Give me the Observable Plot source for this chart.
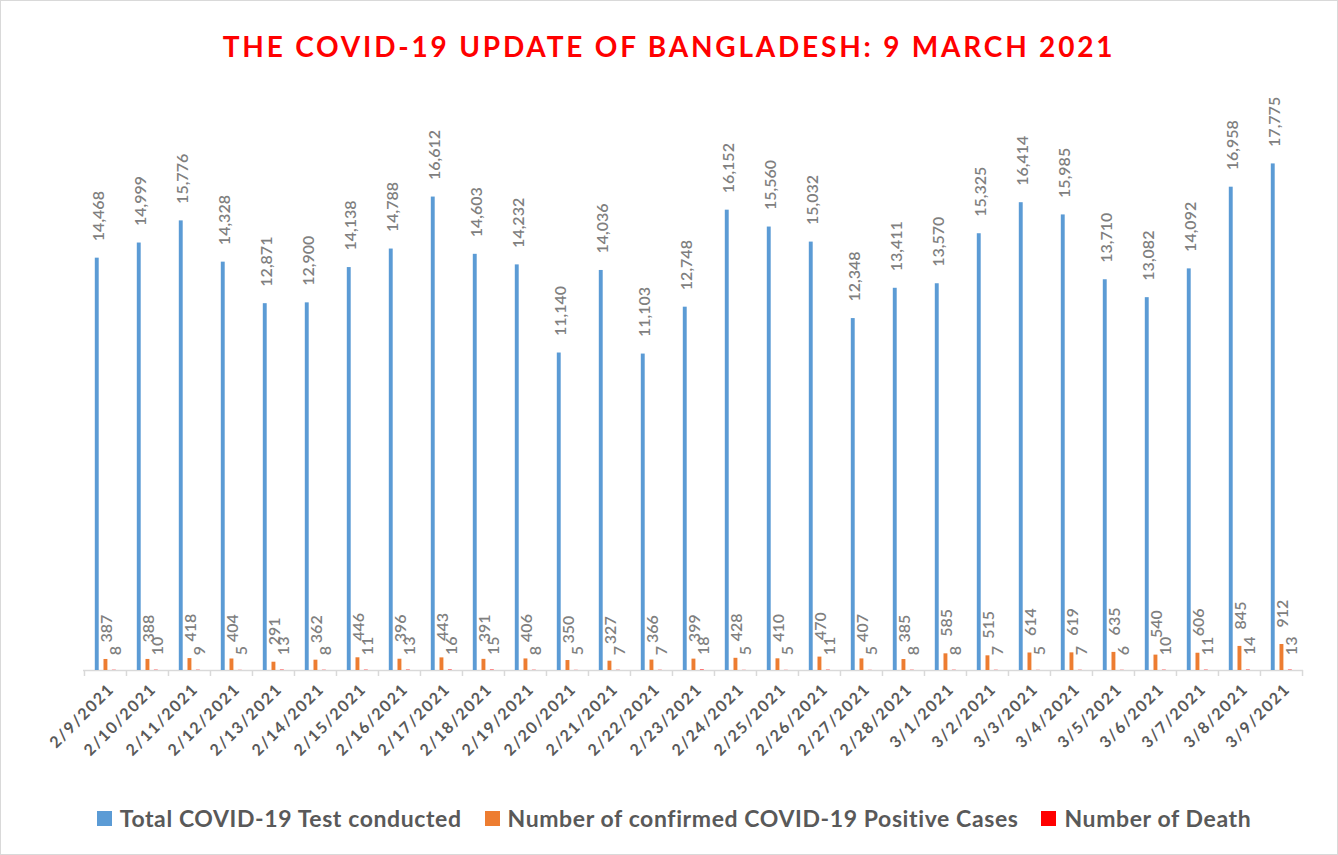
<!DOCTYPE html>
<html>
<head>
<meta charset="utf-8">
<script src="https://cdn.jsdelivr.net/npm/d3@7"></script>
<script src="https://cdn.jsdelivr.net/npm/@observablehq/plot@0.6"></script>
<style>
  html, body { margin: 0; padding: 0; background: #fff; }
  #chart { position: relative; width: 1338px; height: 855px; outline: 1px solid #d9d9d9; outline-offset: -1px; font-family: Lato, "Open Sans", sans-serif; }
  #title { position: absolute; top: 30px; left: 0; width: 100%; text-align: center; color: #ff0000; font-weight: 700; font-size: 28px; line-height: 32px; letter-spacing: 2.8px; }
  #plot { position: absolute; top: 80px; left: 0; }
  #legend { position: absolute; top: 804px; left: 0; width: 1338px; box-sizing: border-box; padding-left: 10px; display: flex; justify-content: center; align-items: center; gap: 23px; }
  .item { display: flex; align-items: center; gap: 8px; color: #595959; font-weight: 700; font-size: 23px; line-height: 28px; letter-spacing: 0.6px; }
  .sw { width: 15px; height: 15px; }
  g[aria-label="x-axis tick label"] text { letter-spacing: 1.6px; }
</style>
</head>
<body>
<div id="chart">
  <div id="title"></div>
  <div id="plot"></div>
  <div id="legend"></div>
</div>
<script>
const titleText = "THE COVID-19 UPDATE OF BANGLADESH: 9 MARCH 2021";

const dates = ["2/9/2021","2/10/2021","2/11/2021","2/12/2021","2/13/2021","2/14/2021","2/15/2021","2/16/2021","2/17/2021","2/18/2021","2/19/2021","2/20/2021","2/21/2021","2/22/2021","2/23/2021","2/24/2021","2/25/2021","2/26/2021","2/27/2021","2/28/2021","3/1/2021","3/2/2021","3/3/2021","3/4/2021","3/5/2021","3/6/2021","3/7/2021","3/8/2021","3/9/2021"];

const tests = [14468,14999,15776,14328,12871,12900,14138,14788,16612,14603,14232,11140,14036,11103,12748,16152,15560,15032,12348,13411,13570,15325,16414,15985,13710,13082,14092,16958,17775];

const positives = [387,388,418,404,291,362,446,396,443,391,406,350,327,366,399,428,410,470,407,385,585,515,614,619,635,540,606,845,912];

const deaths = [8,10,9,5,13,8,11,13,16,15,8,5,7,7,18,5,5,11,5,8,8,7,5,7,6,10,11,14,13];

const seriesNames = ["Total COVID-19 Test conducted","Number of confirmed COVID-19 Positive Cases","Number of Death"];
const seriesColors = ["#5b9bd5","#ed7d31","#ff0000"];

const data = dates.map((date, i) => ({date, tests: tests[i], positives: positives[i], deaths: deaths[i]}));
const fmt = d3.format(",");

document.getElementById("title").textContent = titleText;

const labelColor = "#7f7f7f";
const plot = Plot.plot({
  width: 1338,
  height: 700,
  marginTop: 20,
  marginBottom: 110,
  marginLeft: 83,
  marginRight: 35,
  x: {domain: dates, padding: 0},
  y: {domain: [0, 20000], axis: null},
  style: {fontFamily: "Lato, 'Open Sans', sans-serif", overflow: "visible", background: "transparent"},
  marks: [
    Plot.ruleY([0], {stroke: "#d9d9d9", strokeWidth: 1.5}),
    Plot.ruleX(dates, {x: d => d, y1: 0, y2: -210, dx: -21.03, stroke: "#d9d9d9", strokeWidth: 1.5}),
    Plot.ruleX(dates.slice(-1), {x: d => d, y1: 0, y2: -210, dx: 21.03, stroke: "#d9d9d9", strokeWidth: 1.5}),
    Plot.barY(data, {x: "date", y: "tests", fill: seriesColors[0], insetLeft: 10.8, insetRight: 27.3}),
    Plot.barY(data, {x: "date", y: "positives", fill: seriesColors[1], insetLeft: 19.5, insetRight: 18.6}),
    Plot.barY(data, {x: "date", y: "deaths", fill: seriesColors[2], insetLeft: 27.9, insetRight: 10.2}),
    Plot.text(data, {x: "date", y: "tests", text: d => fmt(d.tests), rotate: -90, textAnchor: "start", dy: -17, dx: -6.5, fill: labelColor, fontSize: 16, fontWeight: 600}),
    Plot.text(data, {x: "date", y: "positives", text: d => fmt(d.positives), rotate: -90, textAnchor: "start", dy: -17, dx: 1.5, fill: labelColor, fontSize: 16, fontWeight: 600}),
    Plot.text(data, {x: "date", y: "deaths", text: d => fmt(d.deaths), rotate: -90, textAnchor: "start", dy: -15, dx: 10, fill: labelColor, fontSize: 16, fontWeight: 600}),
    Plot.axisX({tickRotate: -45, tickSize: 0, tickPadding: 16, dx: 6, fontSize: 16, fontWeight: "bold", fill: "#595959", label: null})
  ]
});
document.getElementById("plot").appendChild(plot);

const legend = document.getElementById("legend");
seriesNames.forEach((name, i) => {
  const item = document.createElement("div");
  item.className = "item";
  const sw = document.createElement("span");
  sw.className = "sw";
  sw.style.background = seriesColors[i];
  const t = document.createElement("span");
  t.textContent = name;
  item.appendChild(sw);
  item.appendChild(t);
  legend.appendChild(item);
});
</script>
</body>
</html>
